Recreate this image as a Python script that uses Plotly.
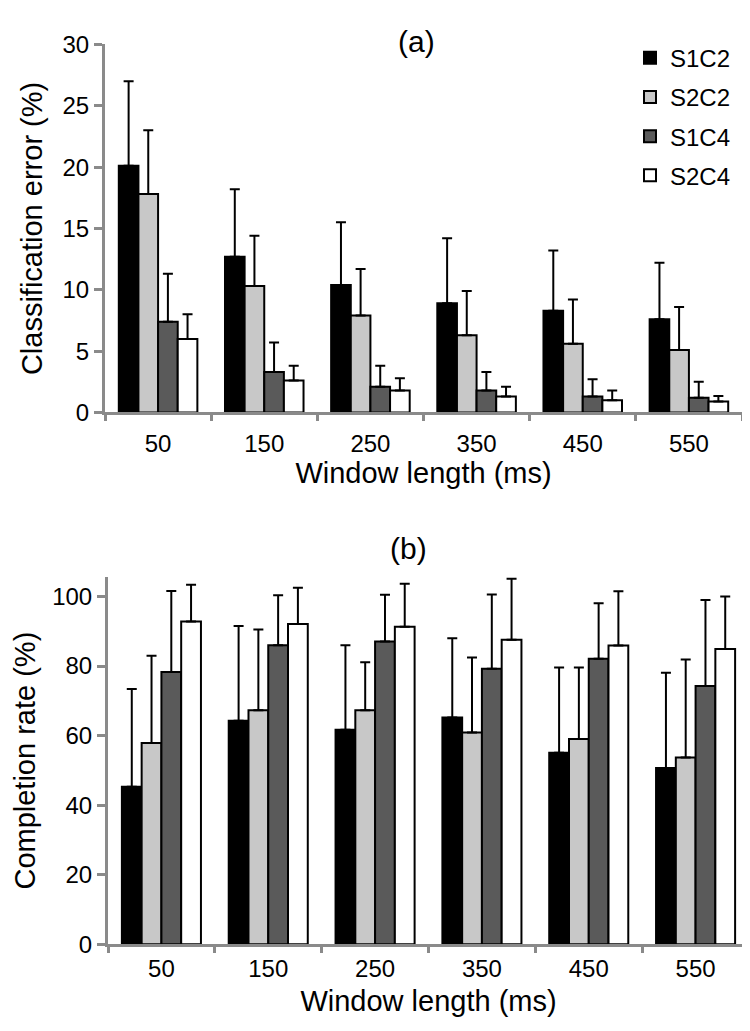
import plotly.graph_objects as go

# window lengths (ms)
windows = ["50", "150", "250", "350", "450", "550"]
series = ["S1C2", "S2C2", "S1C4", "S2C4"]
colors = ["#000000", "#c8c8c8", "#5a5a5a", "#ffffff"]

# (a) classification error (%) - mean and SD
err_mean = {
    "S1C2": [20.1, 12.7, 10.4, 8.9, 8.3, 7.6],
    "S2C2": [17.8, 10.3, 7.9, 6.3, 5.6, 5.1],
    "S1C4": [7.4, 3.3, 2.1, 1.8, 1.3, 1.2],
    "S2C4": [6.0, 2.6, 1.8, 1.3, 1.0, 0.9],
}
err_sd = {
    "S1C2": [6.9, 5.5, 5.1, 5.3, 4.9, 4.6],
    "S2C2": [5.2, 4.1, 3.8, 3.6, 3.6, 3.5],
    "S1C4": [3.9, 2.4, 1.7, 1.5, 1.4, 1.3],
    "S2C4": [2.0, 1.2, 1.0, 0.8, 0.8, 0.45],
}

# (b) completion rate (%) - mean and SD
comp_mean = {
    "S1C2": [45.3, 64.3, 61.7, 65.2, 55.1, 50.7],
    "S2C2": [57.9, 67.3, 67.3, 60.9, 59.0, 53.7],
    "S1C4": [78.3, 86.0, 87.1, 79.2, 82.1, 74.3],
    "S2C4": [92.8, 92.1, 91.3, 87.6, 85.9, 84.9],
}
comp_sd = {
    "S1C2": [28.1, 27.2, 24.3, 22.8, 24.5, 27.4],
    "S2C2": [25.1, 23.2, 13.8, 21.6, 20.6, 28.2],
    "S1C4": [23.3, 14.4, 13.4, 21.4, 16.0, 24.7],
    "S2C4": [10.6, 10.4, 12.4, 17.5, 15.6, 15.1],
}

W, H = 750, 1031
FONT = "Liberation Sans, Arial, sans-serif"
AXC = "#8a8a8a"

fig = go.Figure()

for i, s in enumerate(series):
    fig.add_trace(go.Bar(
        x=windows, y=err_mean[s], name=s, legendgroup=s,
        marker=dict(color=colors[i], line=dict(color="black", width=2)),
        error_y=dict(type="data", array=err_sd[s], arrayminus=[0] * 6, symmetric=False,
                     color="black", thickness=2, width=5),
        xaxis="x", yaxis="y",
    ))
for i, s in enumerate(series):
    fig.add_trace(go.Bar(
        x=windows, y=comp_mean[s], name=s, legendgroup=s, showlegend=False,
        marker=dict(color=colors[i], line=dict(color="black", width=2)),
        error_y=dict(type="data", array=comp_sd[s], arrayminus=[0] * 6, symmetric=False,
                     color="black", thickness=2, width=5),
        xaxis="x2", yaxis="y2",
    ))

xax = dict(type="category", tickson="boundaries", ticks="outside", ticklen=6, tickwidth=3,
           tickcolor=AXC, showline=True, linecolor=AXC, linewidth=3, showgrid=False,
           tickfont=dict(size=24, color="black"))
yax = dict(ticks="outside", ticklen=8, tickwidth=3, tickcolor=AXC, showline=True,
           linecolor=AXC, linewidth=3, showgrid=False, zeroline=False,
           tickfont=dict(size=24, color="black"))

fig.update_layout(
    width=W, height=H,
    margin=dict(l=0, r=0, t=0, b=0),
    paper_bgcolor="white", plot_bgcolor="white",
    font=dict(family=FONT, color="black"),
    barmode="group", bargap=0.26, bargroupgap=0,
    xaxis=dict(xax, domain=[97 / W, 734 / W], anchor="y", ticklabelstandoff=8,
               title=dict(text="Window length (ms)", font=dict(size=29), standoff=7)),
    yaxis=dict(yax, domain=[1 - 401 / H, 1 - 23 / H], range=[0, 30], dtick=5, anchor="x",
               title=dict(text="Classification error (%)", font=dict(size=29), standoff=12)),
    xaxis2=dict(xax, domain=[100 / W, 741 / W], anchor="y2", ticklabelstandoff=1,
                title=dict(text="Window length (ms)", font=dict(size=29), standoff=10)),
    yaxis2=dict(yax, domain=[1 - 947 / H, 1 - 570 / H], range=[0, 105.6], dtick=20, anchor="x2",
                title=dict(text="Completion rate (%)", font=dict(size=29), standoff=8)),
    legend=dict(x=622 / W, y=1 - 14 / H, xanchor="left", yanchor="top",
                font=dict(size=24), tracegroupgap=5, bgcolor="rgba(0,0,0,0)"),
    annotations=[
        dict(text="(a)", x=408 / W, y=1 - 20 / H, xref="paper", yref="paper",
             xanchor="center", yanchor="middle", showarrow=False, font=dict(size=30)),
        dict(text="(b)", x=401 / W, y=1 - 541 / H, xref="paper", yref="paper",
             xanchor="center", yanchor="middle", showarrow=False, font=dict(size=30)),
    ],
)

fig.write_html("out.html")
